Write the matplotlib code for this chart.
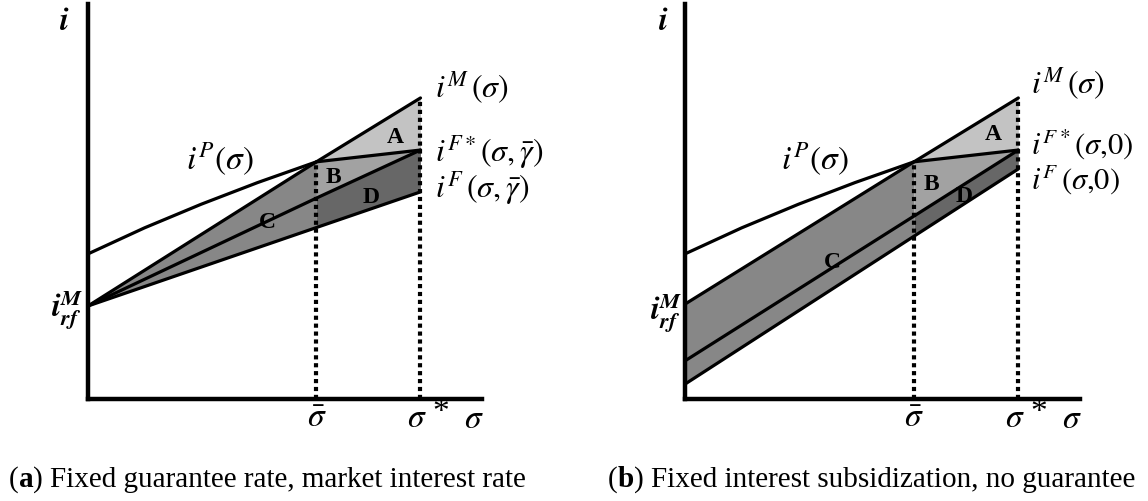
import matplotlib
matplotlib.use("Agg")
import matplotlib.pyplot as plt

plt.rcParams['mathtext.fontset'] = 'stix'
plt.rcParams['font.family'] = ['Liberation Serif', 'DejaVu Serif']

# risk levels
sigma_bar = 6.87
sigma_star = 10.0
sigma_pts = [0, sigma_bar, sigma_star]

# panel (a): fixed guarantee rate, market interest rate
iM_a = [3.0, 7.65, 9.71]
iFs_a = [3.0, 6.48, 8.03]
iF_a = [3.0, 5.53, 6.68]
iP_sigma = [0, 1.7, 3.4, 5.1, sigma_bar]
iP_a = [4.68, 5.52, 6.28, 6.98, 7.65]

# panel (b): fixed interest subsidization, no guarantee
iM_b = [3.06, 7.65, 9.71]
iFs_b = [1.23, 5.9, 8.03]
iF_b = [0.48, 5.25, 7.42]
iP_b = [4.68, 5.52, 6.28, 6.98, 7.65]

labels_a = [r'$i^{F*}(\sigma,\bar{\gamma})$', r'$i^{F}\,(\sigma,\bar{\gamma})$']
labels_b = [r'$i^{F*}(\sigma{,}0)$', r'$i^{F}\,(\sigma{,}0)$']

LW = 2.3
FS = 23


def drawPanel(ax, iM, iFs, iF, iP, f_labels, label_pos, fs_f):
    # shaded regions
    ax.fill_between(sigma_pts[:2], iM[:2], iF[:2], color='#878787', lw=0, zorder=1)
    kink = [iM[1], iFs[2]]
    ax.fill_between(sigma_pts[1:], iM[1:], kink, color='#c3c3c3', lw=0, zorder=1)
    ax.fill_between(sigma_pts[1:], kink, iFs[1:], color='#a2a2a2', lw=0, zorder=1)
    ax.fill_between(sigma_pts[1:], iFs[1:], iF[1:], color='#676767', lw=0, zorder=1)

    # dotted verticals
    ax.plot([sigma_bar, sigma_bar], [0, iM[1]], color='black', lw=3,
            linestyle=(0, (1.0, 0.9)), dash_capstyle='butt', zorder=2)
    ax.plot([sigma_star, sigma_star], [0, iM[2]], color='black', lw=3,
            linestyle=(0, (1.0, 0.9)), dash_capstyle='butt', zorder=2)

    # curves
    ax.plot(sigma_pts, iM, color='black', lw=LW, solid_capstyle='round', zorder=3)
    ax.plot(sigma_pts, iFs, color='black', lw=LW, solid_capstyle='round', zorder=3)
    ax.plot(sigma_pts, iF, color='black', lw=LW, solid_capstyle='round', zorder=3)
    ax.plot(sigma_pts[1:], kink, color='black', lw=LW, solid_capstyle='round', zorder=3)
    ax.plot(iP_sigma, iP, color='black', lw=LW, solid_capstyle='round', zorder=3)

    ax.set_xlim(0, 11.85)
    ax.set_ylim(0, 12.74)
    for s in ['top', 'right']:
        ax.spines[s].set_visible(False)
    for s in ['left', 'bottom']:
        ax.spines[s].set_linewidth(3.2)
    ax.set_xticks([])
    ax.set_yticks([])
    ax.patch.set_alpha(0)

    p = label_pos
    ax.text(p['i'][0], p['i'][1], r'$\mathbfit{i}$', fontsize=FS, ha='center', va='center')
    ax.text(p['M'][0], p['M'][1], r'$i^{M}\,(\sigma)$', fontsize=FS, ha='left', va='center')
    ax.text(p['Fs'][0], p['Fs'][1], f_labels[0], fontsize=fs_f, ha='left', va='center')
    ax.text(p['F'][0], p['F'][1], f_labels[1], fontsize=fs_f, ha='left', va='center')
    ax.text(p['P'][0], p['P'][1], r'$i^{P}\left(\sigma\right)$', fontsize=FS + 1, ha='left', va='center')
    ax.text(p['rf'][0], p['rf'][1], r'$\mathbfit{i}_{\mathbfit{rf}}^{\mathbfit{M}}$', fontsize=FS,
            ha='right', va='center')
    for name in ['A', 'B', 'C', 'D']:
        ax.text(p[name][0], p[name][1], name, fontsize=17, fontweight='bold', ha='center',
                va='center', zorder=4)

    ax.text(sigma_bar, -0.62, r'$\bar{\sigma}$', fontsize=FS + 1, ha='center', va='center', clip_on=False)
    ax.text(sigma_star - 0.4, -0.62, r'$\sigma$', fontsize=FS + 1, ha='left', va='center', clip_on=False)
    ax.text(sigma_star + 0.35, -0.42, '*', fontsize=FS + 1, ha='left', va='center', clip_on=False)
    ax.text(11.62, -0.65, r'$\sigma$', fontsize=FS + 1, ha='center', va='center', clip_on=False)


pos_a = {'i': (-0.72, 12.19), 'M': (10.45, 10.06), 'Fs': (10.45, 8.0), 'F': (10.45, 6.84),
         'P': (2.94, 7.8), 'rf': (-0.15, 2.9), 'A': (9.25, 8.48), 'B': (7.39, 7.19),
         'C': (5.38, 5.71), 'D': (8.5, 6.52)}
pos_b = {'i': (-0.66, 12.19), 'M': (10.39, 10.2), 'Fs': (10.39, 8.22), 'F': (10.39, 7.1),
         'P': (2.88, 7.8), 'rf': (-0.1, 2.8), 'A': (9.25, 8.55), 'B': (7.39, 6.94),
         'C': (4.41, 4.42), 'D': (8.38, 6.55)}

fig = plt.figure(figsize=(11.48, 5.02), dpi=100)
ax_a = fig.add_axes([88 / 1148, 102 / 502, 394 / 1148, 395 / 502])
ax_b = fig.add_axes([685 / 1148, 102 / 502, 395 / 1148, 395 / 502])

drawPanel(ax_a, iM_a, iFs_a, iF_a, iP_a, labels_a, pos_a, FS)
drawPanel(ax_b, iM_b, iFs_b, iF_b, iP_b, labels_b, pos_b, FS - 1)


def caption(x, letter, rest):
    # "(" regular, letter bold, ") ..." regular
    renderer = fig.canvas.get_renderer()
    y = 22 / 502
    t1 = fig.text(x, y, '(', fontsize=21, va='center')
    w = t1.get_window_extent(renderer).width / 1148
    t2 = fig.text(x + w, y, letter, fontsize=21, fontweight='bold', va='center')
    w2 = t2.get_window_extent(renderer).width / 1148
    fig.text(x + w + w2, y, ') ' + rest, fontsize=21, va='center')


caption(9 / 1148, 'a', 'Fixed guarantee rate, market interest rate')
caption(608 / 1148, 'b', 'Fixed interest subsidization, no guarantee')

fig.savefig('out.png', dpi=100)
